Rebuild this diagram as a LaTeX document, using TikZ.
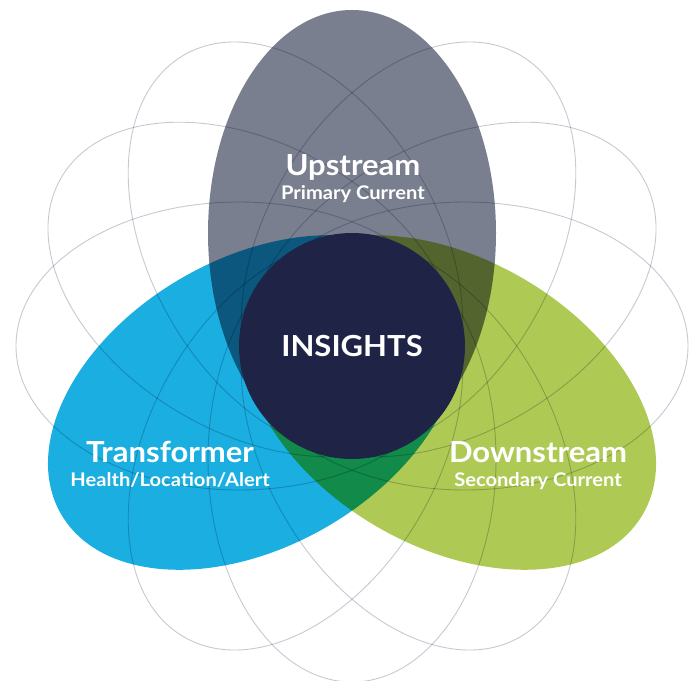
\documentclass[tikz,border=0pt]{standalone}
\usepackage{fontspec}
\setmainfont{Lato}[FakeStretch=1.07]
\definecolor{upgray}{RGB}{122,127,143}
\definecolor{trblue}{RGB}{26,175,224}
\definecolor{dngreen}{RGB}{174,202,85}
\definecolor{corenavy}{RGB}{31,36,71}
\definecolor{petalline}{RGB}{200,200,212}
\tikzset{
  petal/.style={draw=petalline, line width=0.9pt, blend mode=multiply},
  lobe/.style={fill=#1, blend mode=multiply},
  titletext/.style={text=white, font=\bfseries\fontsize{29}{32}\selectfont,
                    anchor=base, inner sep=0pt},
  subtext/.style={text=white, font=\bfseries\fontsize{18.8}{22}\selectfont,
                  anchor=base, inner sep=0pt}
}

\begin{document}
\begin{tikzpicture}[x=1pt, y=1pt]
  \useasboundingbox (0,0) rectangle (700,680);
  \coordinate (O) at (352,334);

  % ── Three coloured lobes, multiplied where they overlap ──────────
  \begin{scope}[shift={(O)}]
    \foreach \rot/\col in {0/upgray, 120/trblue, 240/dngreen}
      { \fill[lobe=\col, rotate=\rot] (0,113) ellipse [x radius=144, y radius=223]; }

    % thin petal outlines in between, every 30 degrees
    \foreach \rot in {30,60,90,150,180,210,270,300,330}
      { \draw[petal, rotate=\rot] (0,113) ellipse [x radius=144, y radius=223]; }
  \end{scope}

  % ── Centre disc ──────────────────────────────────────────────────
  \node[circle, fill=corenavy, minimum size=226pt, inner sep=0pt,
        text=white, font=\bfseries\fontsize{29}{32}\selectfont] (insights) at (O) {INSIGHTS};

  % ── Lobe captions ────────────────────────────────────────────────
  \foreach \n/\x/\y/\ttl/\sub in {up/353/504/Upstream/{Primary Current},
                                  tr/170/218/Transformer/{Health/Location/Alert},
                                  dn/538/218/Downstream/{Secondary Current}}
    { \node[titletext] (\n-title) at (\x,\y) {\ttl};
      \node[subtext] (\n-sub) at (\x,\y-24) {\sub}; }
\end{tikzpicture}
\end{document}
